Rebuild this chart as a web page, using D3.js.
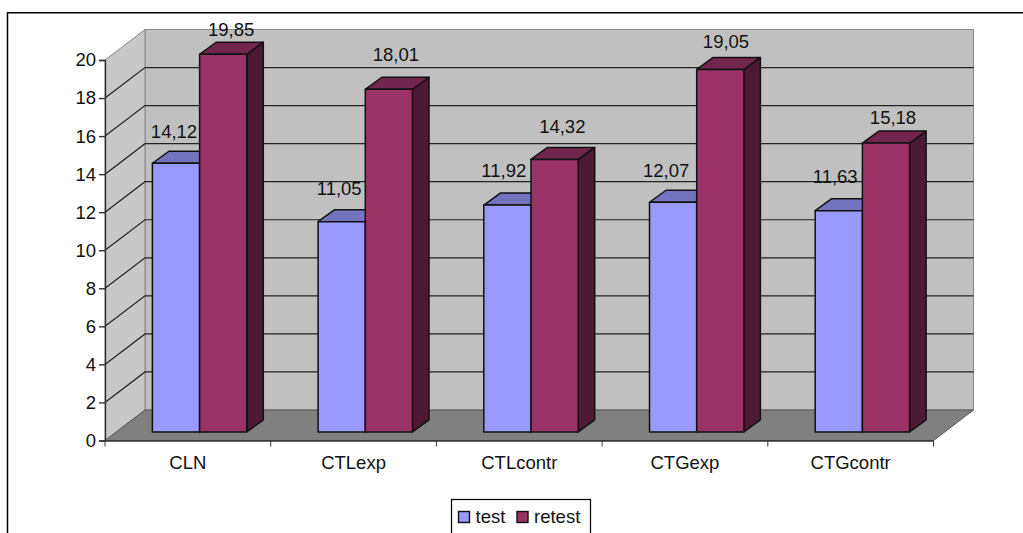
<!DOCTYPE html>
<html>
<head>
<meta charset="utf-8">
<script src="https://cdn.jsdelivr.net/npm/d3@7"></script>
<style>
html, body { margin: 0; padding: 0; background: #fff; overflow: hidden; }
svg { display: block; }
text { font-family: "Liberation Sans", Arial, sans-serif; fill: #111; }
</style>
</head>
<body>
<svg id="chart" width="1023" height="533"></svg>
<script>
const categories = ["CLN", "CTLexp", "CTLcontr", "CTGexp", "CTGcontr"];
const seriesNames = ["test", "retest"];
const testValues = [14.12, 11.05, 11.92, 12.07, 11.63];
const retestValues = [19.85, 18.01, 14.32, 19.05, 15.18];
const yTicks = [0, 2, 4, 6, 8, 10, 12, 14, 16, 18, 20];

// Manual nudges for the data labels, the way an office chart lets them be dragged
const testLabelNudge = [[-2, -13], [-2.5, -14.7], [-3.6, -16.4], [-7, -13.6], [-3.6, -15.6]];
const retestLabelNudge = [[8, -6], [7, -16.3], [7.7, -14.2], [5.7, -9.8], [7, -6.8]];

const svg = d3.select("#chart");
const fontSize = 18.5;

const plot = { left: 105, right: 933.5, bottom: 440.5, top: 60 };
const depth = { dx: 40, dy: -30.5 };
const barDepth = { dx: 16.5, dy: -12 };
const barOffset = { dx: 11.5, dy: -8.6 };

const y = d3.scaleLinear().domain([0, 20]).range([plot.bottom, plot.top]);
const x = d3.scaleBand().domain(categories).range([plot.left, plot.right]);
const inner = d3.scaleBand().domain(seriesNames).range([0, 94.4]);
const groupPad = 47.4;

const poly = pts => pts.map(p => p.join(",")).join(" ");

// Outer chart frame
svg.append("path")
  .attr("d", "M7.5,533V12.7H1023")
  .attr("fill", "none").attr("stroke", "#000").attr("stroke-width", 1.5);

// Back wall, side wall and floor
const backLeft = plot.left + depth.dx, backRight = plot.right + depth.dx;
const backY = v => y(v) + depth.dy;

svg.append("polygon")
  .attr("points", poly([[backLeft, backY(20)], [backRight, backY(20)], [backRight, backY(0)], [backLeft, backY(0)]]))
  .attr("fill", "#c0c0c0").attr("stroke", "#868686").attr("stroke-width", 1);

svg.append("polygon")
  .attr("points", poly([[plot.left, y(20)], [backLeft, backY(20)], [backLeft, backY(0)], [plot.left, y(0)]]))
  .attr("fill", "#c8c8c8").attr("stroke", "#868686").attr("stroke-width", 1);

svg.append("polygon")
  .attr("points", poly([[plot.left, y(0)], [plot.right, y(0)], [backRight, backY(0)], [backLeft, backY(0)]]))
  .attr("fill", "#808080").attr("stroke", "#555").attr("stroke-width", 1);

// Gridlines wrap from the front axis across the side wall to the back wall
const grid = svg.append("g").attr("fill", "none").attr("stroke", "#222").attr("stroke-width", 1.2);
yTicks.filter(t => t > 0 && t < 20).forEach(t => {
  grid.append("polyline")
    .attr("points", poly([[plot.left, y(t)], [backLeft, backY(t)], [backRight, backY(t)]]));
});

// Axes
const yAxis = d3.axisLeft(y).tickValues(yTicks).tickSize(6).tickPadding(3).tickFormat(d3.format("d"));
const gy = svg.append("g").attr("transform", `translate(${plot.left},0)`).call(yAxis);
const xAxis = d3.axisBottom(x).tickSize(0).tickPadding(15);
const gx = svg.append("g").attr("transform", `translate(0,${plot.bottom})`).call(xAxis);
[gy, gx].forEach(g => {
  g.selectAll("text").attr("font-size", fontSize);
  g.attr("font-family", null).attr("font-size", null);
  g.selectAll("path,line").attr("stroke", "#333").attr("stroke-width", 1.4);
});
// Category separators sit between the bands
svg.append("g").selectAll("line")
  .data(categories.map(c => x(c)).concat([plot.right]))
  .join("line")
  .attr("x1", d => d).attr("x2", d => d)
  .attr("y1", plot.bottom).attr("y2", plot.bottom + 6)
  .attr("stroke", "#333").attr("stroke-width", 1);

// 3D bars
const palette = {
  test: { front: "#9999ff", top: "#7373bf", side: "#4d4d80" },
  retest: { front: "#993366", top: "#73264d", side: "#4d1a33" }
};
const seriesValues = { test: testValues, retest: retestValues };
const nudges = { test: testLabelNudge, retest: retestLabelNudge };

const bars = svg.append("g").attr("stroke", "#111").attr("stroke-width", 1.5).attr("stroke-linejoin", "round");
const labels = [];
categories.forEach((cat, i) => {
  // retest is drawn after test so it covers the side of the test bar
  seriesNames.forEach(name => {
    const v = seriesValues[name][i];
    const x0 = x(cat) + groupPad + inner(name);
    const x1 = x0 + inner.bandwidth();
    const yb = y(0) + barOffset.dy;
    const yt = y(v) + barOffset.dy;
    const c = palette[name];
    const g = bars.append("g");
    g.append("polygon").attr("fill", c.side)
      .attr("points", poly([[x1, yt], [x1 + barDepth.dx, yt + barDepth.dy], [x1 + barDepth.dx, yb + barDepth.dy], [x1, yb]]));
    g.append("polygon").attr("fill", c.top)
      .attr("points", poly([[x0, yt], [x0 + barDepth.dx, yt + barDepth.dy], [x1 + barDepth.dx, yt + barDepth.dy], [x1, yt]]));
    g.append("rect").attr("fill", c.front)
      .attr("x", x0).attr("y", yt).attr("width", x1 - x0).attr("height", yb - yt);
    const [nx, ny] = nudges[name][i];
    labels.push({ text: d3.format(".2f")(v).replace(".", ","), x: (x0 + x1) / 2 + nx, y: yt + barDepth.dy + ny });
  });
});

svg.append("g").selectAll("text").data(labels).join("text")
  .attr("x", d => d.x).attr("y", d => d.y)
  .attr("text-anchor", "middle").attr("font-size", fontSize)
  .text(d => d.text);

// Legend, cut by the lower edge of the frame
const legend = svg.append("g");
legend.append("rect").attr("x", 451.5).attr("y", 499.5).attr("width", 139).attr("height", 40)
  .attr("fill", "#fff").attr("stroke", "#000").attr("stroke-width", 1.2);
const legendX = d3.scaleOrdinal().domain(seriesNames).range([458.5, 517]);
seriesNames.forEach(name => {
  legend.append("rect").attr("x", legendX(name)).attr("y", 511.5).attr("width", 11).attr("height", 11)
    .attr("fill", palette[name].front).attr("stroke", "#111").attr("stroke-width", 1.4);
  legend.append("text").attr("x", legendX(name) + 17).attr("y", 522.5)
    .attr("font-size", fontSize).text(name);
});
</script>
</body>
</html>
